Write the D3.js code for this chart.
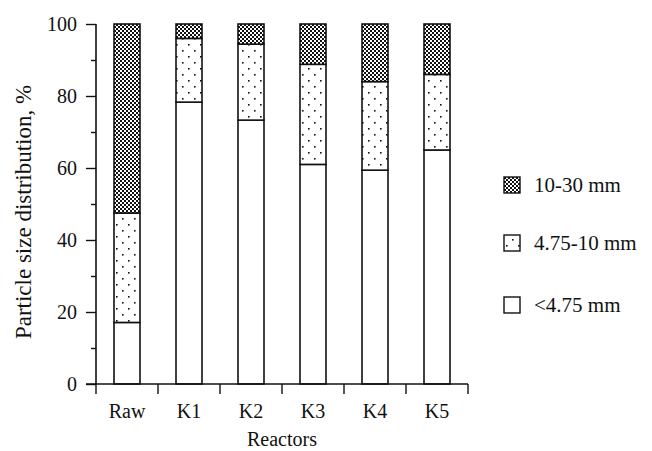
<!DOCTYPE html>
<html><head><meta charset="utf-8">
<script src="https://cdn.jsdelivr.net/npm/d3@7"></script>
<style>body{margin:0;background:#fff}svg{display:block}
svg text{font-family:"Liberation Serif",Tinos,"Times New Roman",Times,serif !important}</style>
</head><body>
<svg id="c" width="652" height="451"></svg>
<script>
const categories = ["Raw","K1","K2","K3","K4","K5"];
const seriesNames = ["<4.75 mm","4.75-10 mm","10-30 mm"];
const fine   = [17.1, 78.3, 73.3, 61.0, 59.4, 65.0];
const medium = [30.4, 17.7, 21.1, 27.8, 24.6, 21.0];
const coarse = [52.5, 4.0, 5.6, 11.2, 16.0, 14.0];
const yTicks = [0,20,40,60,80,100];
const yMinor = [10,30,50,70,90];

const FONT = "Liberation Serif, Tinos, Times New Roman, serif";
const INK = "#111";
const svg = d3.select("#c");
const defs = svg.append("defs");
const pc = defs.append("pattern").attr("id","pCoarse").attr("patternUnits","userSpaceOnUse").attr("width",4).attr("height",4);
pc.append("rect").attr("width",4).attr("height",4).attr("fill","#fff");
pc.append("rect").attr("x",0).attr("y",0).attr("width",2).attr("height",2).attr("fill",INK);
pc.append("rect").attr("x",2).attr("y",2).attr("width",2).attr("height",2).attr("fill",INK);
const pd = defs.append("pattern").attr("id","pMed").attr("patternUnits","userSpaceOnUse").attr("width",12).attr("height",12);
pd.append("rect").attr("width",12).attr("height",12).attr("fill","#fff");
pd.append("rect").attr("x",2).attr("y",2).attr("width",1.6).attr("height",1.6).attr("fill",INK);
pd.append("rect").attr("x",8).attr("y",8).attr("width",1.6).attr("height",1.6).attr("fill",INK);

const fills = ["#fff","url(#pMed)","url(#pCoarse)"];
const mL = 96, mR = 468, mT = 24, mB = 384;
const x = d3.scaleBand().domain(categories).range([mL,mR]).paddingInner(0).paddingOuter(0);
const y = d3.scaleLinear().domain([0,100]).range([mB,mT]);

const data = categories.map((c,i)=>({cat:c, v:[fine[i],medium[i],coarse[i]]}));
const barW = 26;
data.forEach(d=>{
  let acc = 0;
  d.v.forEach((val,k)=>{
    const y0 = acc, y1 = Math.min(acc + val, 100); acc = y1;
    svg.append("rect")
      .attr("x", x(d.cat)+x.bandwidth()/2-barW/2)
      .attr("y", y(y1))
      .attr("width", barW)
      .attr("height", y(y0)-y(y1))
      .attr("fill", fills[k])
      .attr("stroke",INK).attr("stroke-width",1.6);
  });
});

const gy = svg.append("g").attr("transform",`translate(${mL},0)`)
  .call(d3.axisLeft(y).tickValues(yTicks).tickSize(10).tickPadding(9));
gy.attr("font-family",null).attr("font-size",null);
gy.select(".domain").attr("d",`M0,${mT}V${mB}`).attr("stroke",INK).attr("stroke-width",1.6);
gy.selectAll(".tick line").attr("stroke",INK).attr("stroke-width",1.4);
gy.selectAll(".tick text").attr("fill",INK).attr("font-family",FONT).attr("font-size",20);
const gym = svg.append("g").attr("transform",`translate(${mL},0)`)
  .call(d3.axisLeft(y).tickValues(yMinor).tickSize(5).tickFormat(""));
gym.select(".domain").remove();
gym.selectAll(".tick text").remove();
gym.selectAll(".tick line").attr("stroke",INK).attr("stroke-width",1.4);

const gx = svg.append("g").attr("transform",`translate(0,${mB})`)
  .call(d3.axisBottom(x).tickSize(0).tickPadding(20));
gx.attr("font-family",null).attr("font-size",null);
gx.select(".domain").attr("d",`M${mL-10},0H${mR}`).attr("stroke",INK).attr("stroke-width",1.6);
gx.selectAll(".tick text").attr("fill",INK).attr("font-family",FONT).attr("font-size",20);
const bounds = categories.map(c=>x(c)).concat([mR]);
svg.append("g").selectAll("line").data(bounds).join("line")
  .attr("x1",d=>d).attr("x2",d=>d).attr("y1",mB).attr("y2",mB+10)
  .attr("stroke",INK).attr("stroke-width",1.4);

svg.append("text").attr("x",(mL+mR)/2).attr("y",446).attr("text-anchor","middle")
  .attr("font-family",FONT).attr("font-size",20).attr("fill",INK).text("Reactors");
svg.append("text").attr("transform",`translate(31,${(mT+mB)/2+8}) rotate(-90)`).attr("text-anchor","middle")
  .attr("font-family",FONT).attr("font-size",23).attr("fill",INK).text("Particle size distribution, %");

const legY = [185, 243, 305];
const legOrder = [2,1,0];
legOrder.forEach((k,i)=>{
  const g = svg.append("g").attr("transform",`translate(504,${legY[i]})`);
  g.append("rect").attr("x",0).attr("y",-8).attr("width",16).attr("height",16).attr("fill",fills[k]).attr("stroke",INK).attr("stroke-width",1.4);
  g.append("text").attr("x",30).attr("y",7).attr("font-family",FONT).attr("font-size",21).attr("fill",INK).text(seriesNames[k]);
});
</script>
</body></html>
